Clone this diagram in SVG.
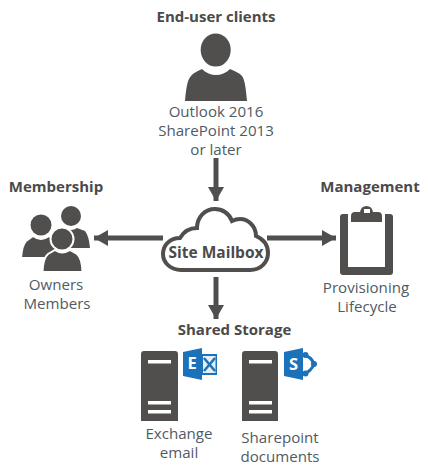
<svg xmlns="http://www.w3.org/2000/svg" width="428" height="475" viewBox="0 0 428 475">
<style>
text{font-family:"Open Sans","Noto Sans","Liberation Sans",sans-serif;text-anchor:middle;fill:#505a64;font-size:15.1px}
.b{font-weight:700;fill:#4a4a4a;font-size:15px}
.icon{fill:#fff;font-weight:700;font-size:16.5px}
.d{fill:#504f4d}
.w{fill:#fff}
.blue{fill:#1c72b8}
.line{stroke:#504f4d;stroke-width:5;fill:none}
</style>
<defs>
<marker id="ah" markerUnits="userSpaceOnUse" markerWidth="15" markerHeight="16" refX="14" refY="8" orient="auto"><path d="M0 0L14 8L0 16Z" fill="#504f4d"/></marker>
</defs>
<g id="connectors">
<path class="line" d="M216 158V201" marker-end="url(#ah)"/>
<path class="line" d="M163 238H94" marker-end="url(#ah)"/>
<path class="line" d="M267 238H336" marker-end="url(#ah)"/>
<path class="line" d="M216 277V319" marker-end="url(#ah)"/>
</g>
<g id="clients">
<text class="b" x="216" y="22">End-user clients</text>
<ellipse class="d" cx="215.700" cy="50" rx="15" ry="16.500"/>
<path class="d" d="M185 101C186 90 187 80 191 76C193 73 198 71 202 69C206 73 211 75 216 75C221 75 226 73 230 69C234 71 240 73 242 76C245 80 246 90 247 101Z"/>
<text x="216" y="117">Outlook 2016</text>
<text x="216" y="136">SharePoint 2013</text>
<text x="216" y="155">or later</text>
</g>
<g id="membership">
<text class="b" x="56" y="192">Membership</text>
<circle class="d" cx="71" cy="216" r="10"/>
<path class="d" d="M60 248V232L66 228Q71 232 77 228L85 231Q89 236 90 248Z"/>
<path class="d" stroke="#fff" stroke-width="2" d="M21 258Q22 245 26 241L33 236Q41 242 49 236L56 240L62 258Z"/>
<circle class="d" cx="41" cy="225" r="10.500"/>
<path class="d" stroke="#fff" stroke-width="2" d="M42.500 272Q43 258 48 254L55 250Q62 255 70 250L77 254Q82 258 82.500 272Z"/>
<circle class="d" stroke="#fff" stroke-width="2" cx="62" cy="239" r="11.500"/>
<text x="56" y="290">Owners</text>
<text x="57" y="309">Members</text>
</g>
<g id="site-mailbox">
<path d="M181 270H250C261 270 268 262 268 253C268 245 263 239 256 236C256 226 248 219 240 219C237 219 234 220 232 221C229 213 222 209 215 209C205 209 197 217 197 228C190 228 184 231 180 238C170 238 163 245 163 254C163 263 171 270 181 270Z" fill="#fff" stroke="#504f4d" stroke-width="4"/>
<text class="b" x="216" y="258" style="font-size:15.500px">Site Mailbox</text>
</g>
<g id="management">
<text class="b" x="370" y="192">Management</text>
<path class="d" d="M343 214H348V267H385V214H390Q393 214 393 217V272Q393 275 390 275H343Q340 275 340 272V217Q340 214 343 214Z"/>
<path class="d" fill-rule="evenodd" d="M351 222V216Q351 212 355 212H360Q361 206 366.500 206Q372 206 373 212H378Q382 212 382 216V222ZM364 209V213H370V209Z"/>
<text x="366" y="293">Provisioning</text>
<text x="367" y="312">Lifecycle</text>
</g>
<g id="shared-storage">
<text class="b" x="234.500" y="335">Shared Storage</text>
</g>
<g id="exchange">
<path class="d" d="M141 421V354Q141 351 144 351H175Q178 351 178 354V421Z"/>
<rect class="w" x="148" y="360" width="23" height="3.500"/>
<rect class="w" x="148" y="401" width="23" height="3.500"/>
<rect class="w" x="148" y="410" width="23" height="3.500"/>
<path class="blue" d="M183 352L202 348V380L183 376Z"/>
<path class="blue" d="M202 354H217V375H202Z"/>
<path d="M203 356H215.500V373H203Z" fill="#e4eef7"/>
<path d="M204 358L215 371M215 358L204 371" stroke="#1c72b8" stroke-width="2.500"/>
<text class="icon" x="192" y="369">E</text>
<text x="179" y="439">Exchange</text>
<text x="179" y="458">email</text>
</g>
<g id="sharepoint">
<path class="d" d="M242 421V354Q242 351 245 351H275Q278 351 278 354V421Z"/>
<rect class="w" x="249" y="360" width="23" height="3.500"/>
<rect class="w" x="249" y="401" width="23" height="3.500"/>
<rect class="w" x="249" y="410" width="23" height="3.500"/>
<path class="blue" d="M284 352L303 348V380L284 376Z"/>
<path d="M303 355Q311 356 314 364Q311 372 303 374" fill="none" stroke="#1c72b8" stroke-width="3"/>
<circle class="blue" cx="305.500" cy="355" r="3"/><circle class="blue" cx="314" cy="364" r="3"/><circle class="blue" cx="305.500" cy="373.500" r="3"/>
<text class="icon" x="293.500" y="369.500">S</text>
<text x="280" y="443">Sharepoint</text>
<text x="280" y="462">documents</text>
</g>
</svg>
